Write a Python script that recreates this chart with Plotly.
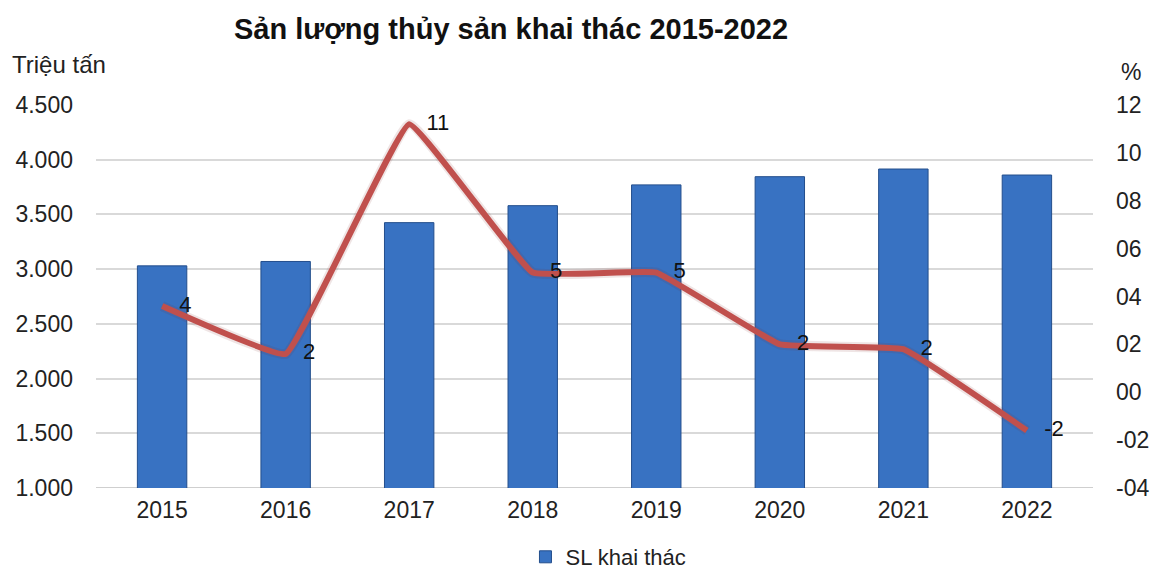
import plotly.graph_objects as go

years = ["2015", "2016", "2017", "2018", "2019", "2020", "2021", "2022"]
san_luong = [3030, 3070, 3425, 3580, 3770, 3845, 3915, 3860]
tang_truong = [3.6, 1.6, 11.2, 5.0, 5.0, 2.0, 1.8, -1.6]

left_ticks = [1000, 1500, 2000, 2500, 3000, 3500, 4000, 4500]
right_ticks = [-4, -2, 0, 2, 4, 6, 8, 10, 12]
right_labels = ["-04", "-02", "00", "02", "04", "06", "08", "10", "12"]

FONT = "Liberation Sans, Arial, sans-serif"

fig = go.Figure()
fig.add_trace(go.Bar(
    x=years, y=san_luong, name="SL khai thác",
    marker=dict(color="#3872C2", line=dict(color="#234E8C", width=1)),
    width=0.4, yaxis="y",
))
# soft shadow under line
fig.add_trace(go.Scatter(
    x=years, y=tang_truong, yaxis="y2", mode="lines",
    line=dict(color="rgba(120,40,40,0.12)", width=10, shape="spline", smoothing=0.25),
    showlegend=False, hoverinfo="skip",
))
fig.add_trace(go.Scatter(
    x=years, y=tang_truong, yaxis="y2", mode="lines+markers+text",
    line=dict(color="#C0504D", width=6, shape="spline", smoothing=0.25),
    marker=dict(size=26, color="rgba(0,0,0,0)"),
    text=[f"{v:.0f}" for v in tang_truong], textposition="middle right",
    textfont=dict(size=22, color="#111111", family=FONT),
    showlegend=False, name="Tăng trưởng (%)",
))

fig.update_layout(
    width=1158, height=574,
    margin=dict(l=96, r=65, t=105, b=86, autoexpand=False),
    paper_bgcolor="white", plot_bgcolor="white",
    separators=",.",
    font=dict(family=FONT, size=22, color="#222222"),
    title=dict(text="<b>Sản lượng thủy sản khai thác 2015-2022</b>",
               x=511/1158, xref="container", xanchor="center",
               y=1-29/574, yref="container", yanchor="middle",
               font=dict(size=29, color="#111111", family=FONT)),
    xaxis=dict(showgrid=False, showline=False, ticks="", tickfont=dict(size=23),
               ticklabelstandoff=6, automargin=False),
    yaxis=dict(range=[1000, 4500], tickvals=left_ticks, tickformat=",.0f",
               showgrid=True, gridcolor="#D9D9D9", gridwidth=1.5,
               zeroline=False, showline=False, ticks="", automargin=False,
               ticklabelstandoff=22, tickfont=dict(size=23)),
    yaxis2=dict(range=[-4, 12], tickvals=right_ticks, ticktext=right_labels,
                overlaying="y", side="right", showgrid=False, zeroline=False,
                showline=False, ticks="", ticklabelstandoff=22, automargin=False,
                tickfont=dict(size=23)),
    showlegend=True,
    legend=dict(orientation="h", x=0.514, xanchor="center",
                yref="container", y=1-557/574, yanchor="middle",
                font=dict(size=22), bgcolor="rgba(0,0,0,0)"),
    annotations=[
        dict(text="Triệu tấn", xref="paper", yref="paper", x=-96/997 + 10/997,
             xanchor="left", y=1 + 40/383, yanchor="middle", showarrow=False,
             font=dict(size=24)),
        dict(text="%", xref="paper", yref="paper", x=1 + 26/997, xanchor="left",
             y=1 + 33/383, yanchor="middle", showarrow=False, font=dict(size=23)),
    ],
)
# bottom axis line
fig.add_shape(type="line", xref="paper", yref="y", x0=0, x1=1, y0=1000, y1=1000,
              line=dict(color="#BFBFBF", width=1.5), layer="below")

fig.write_html("out.html")
